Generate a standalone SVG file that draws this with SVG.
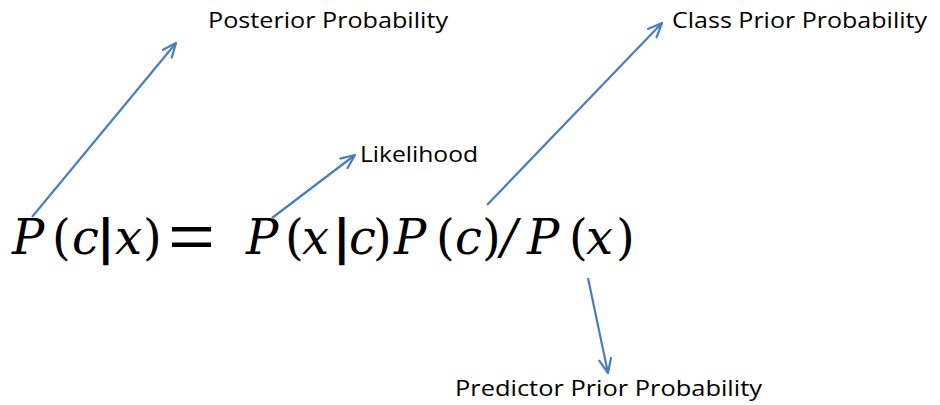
<svg xmlns="http://www.w3.org/2000/svg" width="940" height="405" viewBox="0 0 940 405">
<style>
.lbl{font-family:"Open Sans","Liberation Sans",Arial,sans-serif;font-size:21px;fill:#000}
.eq{font-family:"DejaVu Serif","Liberation Serif",serif;font-size:48px;font-style:italic;fill:#000}
.up{font-style:normal}
.bar{font-style:normal;font-weight:bold;font-family:"DejaVu Sans",sans-serif}
.eqs{font-family:"Liberation Sans",Arial,sans-serif;font-size:62px;fill:#000}
.conn{stroke:#4A7EBB;stroke-width:2.2;fill:none}
</style>
<defs>
<marker id="ah" viewBox="0 0 16 14" refX="15" refY="7" markerWidth="16" markerHeight="14" markerUnits="userSpaceOnUse" orient="auto">
<path d="M1,1 L15,7 L1,13" fill="none" stroke="#4A7EBB" stroke-width="2.2" stroke-linecap="round" stroke-linejoin="round"/>
</marker>
</defs>
<rect width="940" height="405" fill="#fff"/>
<g id="equation">
<text class="eq" y="254"><tspan x="12">P</tspan><tspan class="up" x="52">(</tspan><tspan x="72">c</tspan><tspan class="bar" x="97">|</tspan><tspan x="115">x</tspan><tspan class="up" x="143">)</tspan></text>
<text class="eqs" x="0" y="0" transform="translate(168,257) scale(1.3,1)">=</text>
<text class="eq" y="254"><tspan x="246">P</tspan><tspan class="up" x="285">(</tspan><tspan x="302">x</tspan><tspan class="bar" x="333">|</tspan><tspan x="349">c</tspan><tspan class="up" x="373">)</tspan><tspan x="394">P</tspan><tspan class="up" x="436">(</tspan><tspan x="455">c</tspan><tspan class="up" x="482">)</tspan><tspan x="501">/</tspan><tspan x="527">P</tspan><tspan class="up" x="569">(</tspan><tspan x="586">x</tspan><tspan class="up" x="616">)</tspan></text>
</g>
<g id="posterior"><text class="lbl" x="208" y="28" textLength="240" lengthAdjust="spacingAndGlyphs">Posterior Probability</text></g>
<g id="likelihood"><text class="lbl" x="360" y="162" textLength="118" lengthAdjust="spacingAndGlyphs">Likelihood</text></g>
<g id="classprior"><text class="lbl" x="672" y="28" textLength="255" lengthAdjust="spacingAndGlyphs">Class Prior Probability</text></g>
<g id="predictorprior"><text class="lbl" x="455" y="396" textLength="307" lengthAdjust="spacingAndGlyphs">Predictor Prior Probability</text></g>
<g id="connectors">
<line class="conn" x1="32" y1="217" x2="176" y2="43" marker-end="url(#ah)"/>
<line class="conn" x1="272" y1="218" x2="355" y2="155" marker-end="url(#ah)"/>
<line class="conn" x1="487" y1="205" x2="662" y2="23" marker-end="url(#ah)"/>
<line class="conn" x1="588" y1="278" x2="608" y2="373" marker-end="url(#ah)"/>
</g>
</svg>
